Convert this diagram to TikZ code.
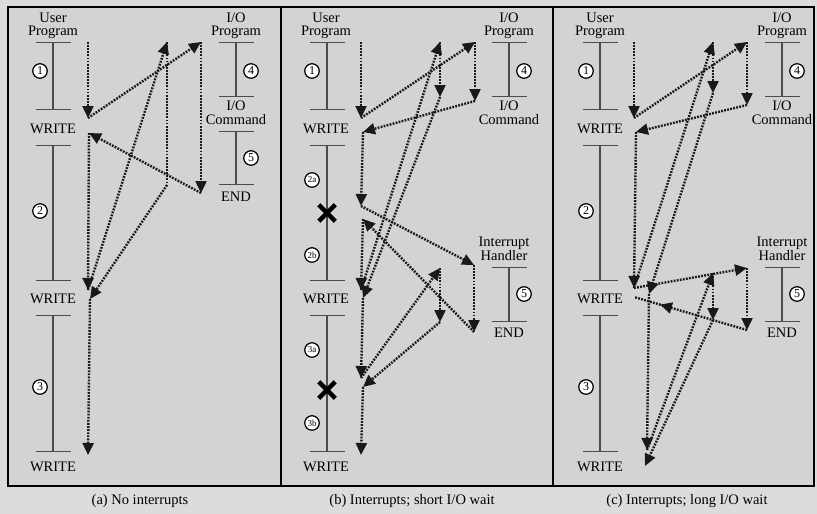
\documentclass[tikz,border=0pt]{standalone}
\usepackage{fontspec}
\setmainfont{Liberation Serif}
\usetikzlibrary{arrows.meta,shapes.misc,decorations.markings}
\definecolor{page}{HTML}{DCDCDC}
\definecolor{panel}{HTML}{D3D3D3}
\tikzstyle{lbl}=[align=center,inner sep=0pt,font=\fontsize{14.5}{13.5}\selectfont]
\tikzstyle{num}=[circle,draw,fill=white,line width=1.2pt,minimum size=14.5pt,inner sep=0pt,font=\fontsize{12}{12}\selectfont]
\tikzstyle{numS}=[num,font=\fontsize{9}{9}\selectfont]
\tikzstyle{prog}=[{Bar[width=35pt]}-{Bar[width=35pt]},line width=1.3pt,draw=black!70]
\tikzstyle{flowN}=[line width=2.4pt,dash pattern=on 1.8pt off 1.3pt,draw=black!90]
\tikzstyle{flow}=[flowN,-{Triangle[length=12pt,width=11pt]}]
\tikzstyle{flowM}=[flowN,postaction={decorate},decoration={markings,mark=at position 0.77 with {\arrow{Triangle[length=12pt,width=11pt]}}}]
\tikzstyle{xmark}=[cross out,draw,line width=4.5pt,minimum size=12pt,inner sep=0pt]

\begin{document}
\begin{tikzpicture}[x=1pt,y=-1pt]
  \useasboundingbox[fill=page] (0,0) rectangle (817,514);
  \draw[line width=2.2pt,fill=panel] (8,7) rectangle (814,486);
  \draw[line width=2.2pt] (281,7) -- (281,486);
  \draw[line width=2.2pt] (553,7) -- (553,486);

  % (a) no interrupts
  \node[lbl] (uA) at (53,26) {User\\Program};
  \node[lbl] (wA1) at (53,129) {WRITE};
  \node[lbl] (wA2) at (53,299) {WRITE};
  \node[lbl] (wA3) at (53,467) {WRITE};
  \draw[prog] (53,42) -- (53,110);
  \draw[prog] (53,145) -- (53,281);
  \draw[prog] (53,315) -- (53,452);
  \node[num] (nA1) at (40,71) {1};
  \node[num] (nA2) at (40,211) {2};
  \node[num] (nA3) at (40,387) {3};
  \node[lbl] (ioA) at (236,26) {I/O\\Program};
  \node[lbl] (cmdA) at (236,113) {I/O\\Command};
  \node[lbl] (endA) at (236,197) {END};
  \draw[prog] (236,42) -- (236,97);
  \draw[prog] (236,131) -- (236,185);
  \node[num] (nA4) at (251,71) {4};
  \node[num] (nA5) at (251,158) {5};
  \node[lbl] (capA) at (140,501) {(a) No interrupts};

  \coordinate (a0) at (88,42);  \coordinate (a1) at (88,118);
  \coordinate (a2) at (201,42); \coordinate (a3) at (201,193);
  \coordinate (a4) at (89,133); \coordinate (a5) at (88,290);
  \coordinate (a6) at (167,42); \coordinate (a7) at (167,185);
  \coordinate (a8) at (90,299); \coordinate (a9) at (88,455);
  \draw[flow] (a0)--(a1); \draw[flow] (a1)--(a2); \draw[flow] (a2)--(a3);
  \draw[flow] (a3)--(a4); \draw[flow] (a4)--(a5); \draw[flow] (a5)--(a6);
  \draw[flowN] (a6)--(a7); \draw[flow] (a7)--(a8); \draw[flow] (a8)--(a9);

  % (b) short I/O wait
  \node[lbl] (uB) at (326,26) {User\\Program};
  \node[lbl] (wB1) at (326,129) {WRITE};
  \node[lbl] (wB2) at (326,299) {WRITE};
  \node[lbl] (wB3) at (326,467) {WRITE};
  \draw[prog] (327,42) -- (327,110);
  \draw[prog] (327,145) -- (327,281);
  \draw[prog] (327,315) -- (327,452);
  \node[num] (nB1) at (312,71) {1};
  \node[numS] (nB2a) at (312,180) {2a};
  \node[xmark] (xB1) at (327,213) {};
  \node[numS] (nB2b) at (312,255) {2b};
  \node[numS] (nB3a) at (312,350) {3a};
  \node[xmark] (xB2) at (327,390) {};
  \node[numS] (nB3b) at (312,423) {3b};
  \node[lbl] (ioB) at (509,26) {I/O\\Program};
  \node[lbl] (cmdB) at (509,113) {I/O\\Command};
  \draw[prog] (509,42) -- (509,97);
  \node[num] (nB4) at (524,71) {4};
  \node[lbl] (intB) at (504,249) {Interrupt\\Handler};
  \node[lbl] (endB) at (509,333) {END};
  \draw[prog] (509,267) -- (509,322);
  \node[num] (nB5) at (524,294) {5};
  \node[lbl] (capB) at (412,501) {(b) Interrupts; short I/O wait};

  \coordinate (b0) at (361,42);   \coordinate (b1) at (361,118);
  \coordinate (b2) at (475,42);   \coordinate (b3) at (475,101);
  \coordinate (b4) at (363,132);  \coordinate (b5) at (361,206);
  \coordinate (b6) at (474,265);  \coordinate (b7) at (474,332);
  \coordinate (b8) at (363,219);  \coordinate (b9) at (361,290);
  \coordinate (b10) at (440,42);  \coordinate (b11) at (440,97);
  \coordinate (b12) at (363,298); \coordinate (b13) at (361,378);
  \coordinate (b14) at (440,268); \coordinate (b15) at (440,322);
  \coordinate (b16) at (363,387); \coordinate (b17) at (361,455);
  \draw[flow] (b0)--(b1); \draw[flow] (b1)--(b2); \draw[flow] (b2)--(b3);
  \draw[flow] (b3)--(b4); \draw[flow] (b4)--(b5); \draw[flow] (b5)--(b6);
  \draw[flow] (b6)--(b7); \draw[flow] (b7)--(b8); \draw[flow] (b8)--(b9);
  \draw[flow] (b9)--(b10); \draw[flow] (b10)--(b11); \draw[flow] (b11)--(b12);
  \draw[flow] (b12)--(b13); \draw[flow] (b13)--(b14); \draw[flow] (b14)--(b15);
  \draw[flow] (b15)--(b16); \draw[flow] (b16)--(b17);

  % (c) long I/O wait
  \node[lbl] (uC) at (600,26) {User\\Program};
  \node[lbl] (wC1) at (600,129) {WRITE};
  \node[lbl] (wC2) at (600,299) {WRITE};
  \node[lbl] (wC3) at (600,467) {WRITE};
  \draw[prog] (600,42) -- (600,110);
  \draw[prog] (600,145) -- (600,281);
  \draw[prog] (600,315) -- (600,452);
  \node[num] (nC1) at (586,71) {1};
  \node[num] (nC2) at (586,211) {2};
  \node[num] (nC3) at (586,387) {3};
  \node[lbl] (ioC) at (782,26) {I/O\\Program};
  \node[lbl] (cmdC) at (782,113) {I/O\\Command};
  \draw[prog] (782,42) -- (782,97);
  \node[num] (nC4) at (797,71) {4};
  \node[lbl] (intC) at (782,249) {Interrupt\\Handler};
  \node[lbl] (endC) at (782,333) {END};
  \draw[prog] (782,267) -- (782,322);
  \node[num] (nC5) at (797,294) {5};
  \node[lbl] (capC) at (687,501) {(c) Interrupts; long I/O wait};

  \coordinate (c0) at (634,42);   \coordinate (c1) at (634,118);
  \coordinate (c2) at (747,42);   \coordinate (c3) at (747,105);
  \coordinate (c4) at (636,132);  \coordinate (c5) at (634,288);
  \coordinate (c6) at (747,268);  \coordinate (c7) at (747,330);
  \coordinate (c8) at (634,297);  \coordinate (c10) at (713,42);
  \coordinate (c11) at (713,93);  \coordinate (c12) at (649,294);
  \coordinate (c13) at (647,450); \coordinate (c14) at (713,273);
  \coordinate (c15) at (713,320); \coordinate (c16) at (645,466);
  \draw[flow] (c0)--(c1); \draw[flow] (c1)--(c2); \draw[flow] (c2)--(c3);
  \draw[flow] (c3)--(c4); \draw[flow] (c4)--(c5); \draw[flow] (c5)--(c6);
  \draw[flow] (c6)--(c7); \draw[flowM] (c7)--(c8); \draw[flow] (c5)--(c10);
  \draw[flow] (c10)--(c11); \draw[flow] (c11)--(c12); \draw[flow] (c12)--(c13);
  \draw[flow] (c13)--(c14); \draw[flow] (c14)--(c15); \draw[flow] (c15)--(c16);
\end{tikzpicture}
\end{document}
